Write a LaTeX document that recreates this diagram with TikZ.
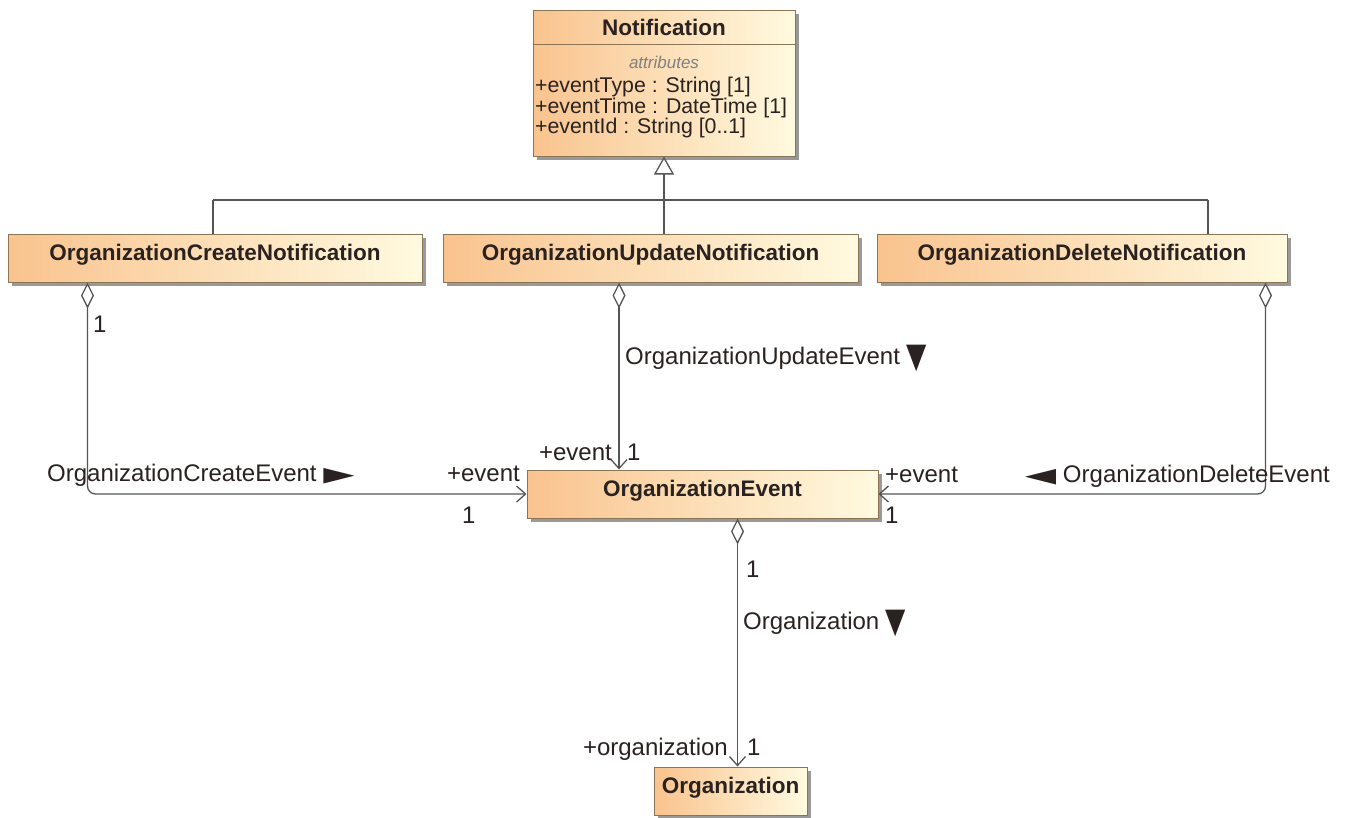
\documentclass[tikz,border=0pt]{standalone}
\usepackage{fontspec}
\usepackage{graphicx}
\setmainfont{Liberation Sans}
\newfontfamily\symfont{DejaVu Sans}
\usetikzlibrary{arrows.meta,shadows}
\definecolor{cls}{HTML}{F9C38E}
\definecolor{clsr}{HTML}{FFFAE0}
\definecolor{brd}{HTML}{8C7555}
\definecolor{lin}{HTML}{555555}
\definecolor{txt}{HTML}{2A2220}
\newcommand\rtri{{\symfont\scalebox{1.7}[0.85]{▶}}}
\newcommand\ltri{{\symfont\scalebox{1.7}[0.85]{◀}}}
\newcommand\dtri{{\symfont\raisebox{-3pt}{\scalebox{1.1}[1.45]{▼}}}}
\begin{document}
\begin{tikzpicture}[x=1pt,y=-1pt,
  classbox/.style={draw=brd, line width=1pt, left color=cls, right color=clsr,
    drop shadow={shadow xshift=4pt, shadow yshift=-4pt, fill=black!40, opacity=1},
    minimum height=48pt, inner sep=0pt, text=txt,
    font=\fontsize{22.5}{26}\selectfont\bfseries, text height=16pt, text depth=12pt},
  lbl/.style={font=\fontsize{24}{28}\selectfont, text=txt, inner sep=0pt},
  attr/.style={font=\fontsize{21.3}{25}\selectfont, text=txt, inner sep=0pt, anchor=base west},
  conn/.style={draw=lin, line width=1.3pt},
  agg/.style={conn, {Diamond[open,length=26pt,width=13pt,fill=white]}-{Straight Barb[length=9pt,width=16pt]}},
  genl/.style={conn, -{Triangle[open,length=18pt,width=20pt,fill=white]}}
]
\useasboundingbox[fill=white] (0,0) rectangle (1348,817);

% classes
\node[classbox, minimum width=262pt, minimum height=146pt] (notif) at (664,83) {};
\draw[draw=brd, line width=1pt] ([yshift=-35pt]notif.north west) -- ([yshift=-35pt]notif.north east);
\node[font=\fontsize{22.5}{26}\selectfont\bfseries, text=txt, inner sep=0pt, anchor=base] (ntitle) at (664,35) {Notification};
\node[font=\fontsize{17}{20}\selectfont\itshape, text=black!50, inner sep=0pt, anchor=base] (nattr) at (664,68) {attributes};
\node[attr] (a1) at (535,92) {+eventType : String [1]};
\node[attr] (a2) at (535,113) {+eventTime : DateTime [1]};
\node[attr] (a3) at (535,133) {+eventId : String [0..1]};

\node[classbox, minimum width=414pt] (create) at (215,258) {OrganizationCreateNotification};
\node[classbox, minimum width=415pt] (upd) at (650.5,258) {OrganizationUpdateNotification};
\node[classbox, minimum width=410pt] (del) at (1082,258) {OrganizationDeleteNotification};
\node[classbox, minimum width=351pt] (oe) at (702.5,494) {OrganizationEvent};
\node[classbox, minimum width=153pt] (org) at (730.5,791) {Organization};

% generalization
\coordinate (gj) at (664,200);
\coordinate (gl) at (213,200);
\coordinate (gr) at (1208,200);
\draw[conn] (gl) -- (gr);
\draw[conn] (gl) -- (gl |- create.north);
\draw[conn] (gr) -- (gr |- del.north);
\draw[conn] (gj) -- (gj |- upd.north);
\draw[genl] (gj) -- (notif.south);

% associations
\coordinate (cs) at ([xshift=80pt]create.south west);
\draw[agg, rounded corners=8pt] (cs) |- (oe.west);
\coordinate (us) at ([xshift=-31.5pt]upd.south);
\draw[agg] (us) -- (us |- oe.north);
\coordinate (ds) at ([xshift=-22pt]del.south east);
\draw[agg, rounded corners=8pt] (ds) |- (oe.east);
\coordinate (os) at ([xshift=35pt]oe.south);
\draw[agg] (os) -- (os |- org.north);

% labels
\node[lbl, anchor=base west] (c1) at (93,332) {1};
\node[lbl, anchor=base west] (cname) at (47,481) {OrganizationCreateEvent \rtri};
\node[lbl, anchor=base east] (cev) at (520,481) {+event};
\node[lbl, anchor=base west] (cm) at (462,523) {1};

\node[lbl, anchor=base west] (uname) at (625,364) {OrganizationUpdateEvent \dtri};
\node[lbl, anchor=base east] (uev) at (612,460) {+event};
\node[lbl, anchor=base west] (um) at (627,460) {1};

\node[lbl, anchor=base west] (dev) at (885,482) {+event};
\node[lbl, anchor=base west] (dm) at (885,523) {1};
\node[lbl, anchor=base east] (dname) at (1330,482) {\ltri\ OrganizationDeleteEvent};

\node[lbl, anchor=base west] (o1) at (746,577) {1};
\node[lbl, anchor=base west] (oname) at (743,629) {Organization \dtri};
\node[lbl, anchor=base east] (oev) at (728,755) {+organization};
\node[lbl, anchor=base west] (om) at (747,755) {1};
\end{tikzpicture}
\end{document}
